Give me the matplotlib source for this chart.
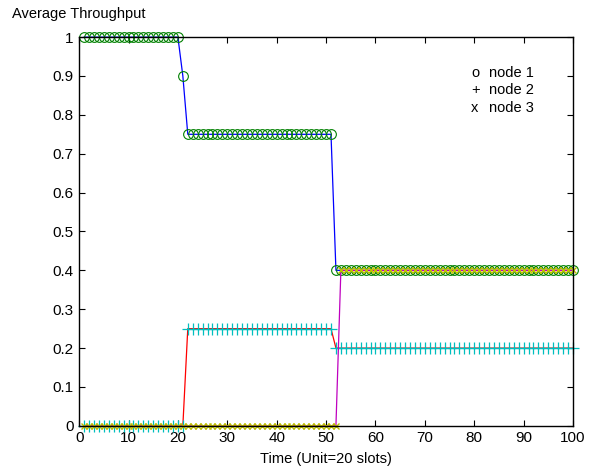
import numpy as np
import matplotlib
matplotlib.use("Agg")
import matplotlib.pyplot as plt

plt.rcParams['font.family'] = ['Liberation Sans', 'DejaVu Sans']

# time steps (Unit = 20 slots)
t = np.arange(1, 101)

# average throughput per node
node1 = [1.0] * 20 + [0.9] + [0.75] * 30 + [0.4] * 49
node2 = [0.0] * 21 + [0.25] * 30 + [0.2] * 49
node3 = [0.0] * 52 + [0.4] * 48

fig = plt.figure(figsize=(5.95, 4.7), dpi=100)
ax = fig.add_axes([0.133, 0.094, 0.830, 0.827])

ax.plot(t, node1, '-', color='blue', lw=0.9, clip_on=False)
ax.plot(t, node1, 'o', color='green', mfc='none', ms=7, mew=0.8, clip_on=False)
ax.plot(t, node2, '-', color='red', lw=0.9, clip_on=False)
ax.plot(t, node2, '+', color='#00bfbf', ms=9, mew=0.9, clip_on=False)
ax.plot(t, node3, '-', color='#bf00bf', lw=0.9, clip_on=False)
ax.plot(t, node3, 'x', color='#bfbf00', ms=4.5, mew=1.0, clip_on=False)

ax.set_xlim(0, 100)
ax.set_ylim(0, 1)
ax.set_xticks(np.arange(0, 101, 10))
ax.set_yticks(np.arange(0, 1.01, 0.1))
ax.set_yticklabels(['0', '0.1', '0.2', '0.3', '0.4', '0.5', '0.6', '0.7', '0.8', '0.9', '1'])
ax.tick_params(direction='in', top=True, right=True, labelsize=11, length=4, pad=4)
for s in ax.spines.values():
    s.set_linewidth(1.0)

ax.set_xlabel('Time (Unit=20 slots)', fontsize=10.5, labelpad=5)
fig.text(0.02, 0.985, 'Average Throughput', fontsize=10.5, va='top', ha='left')

# legend written as plain text
legend_rows = [('o', 'node 1'), ('+', 'node 2'), ('x', 'node 3')]
for i, (m, name) in enumerate(legend_rows):
    y = 0.845 - i * 0.037
    fig.text(0.792, y, m, fontsize=10.5, va='center', ha='left')
    fig.text(0.822, y, name, fontsize=10.5, va='center', ha='left')

fig.savefig('out.png', dpi=100)
